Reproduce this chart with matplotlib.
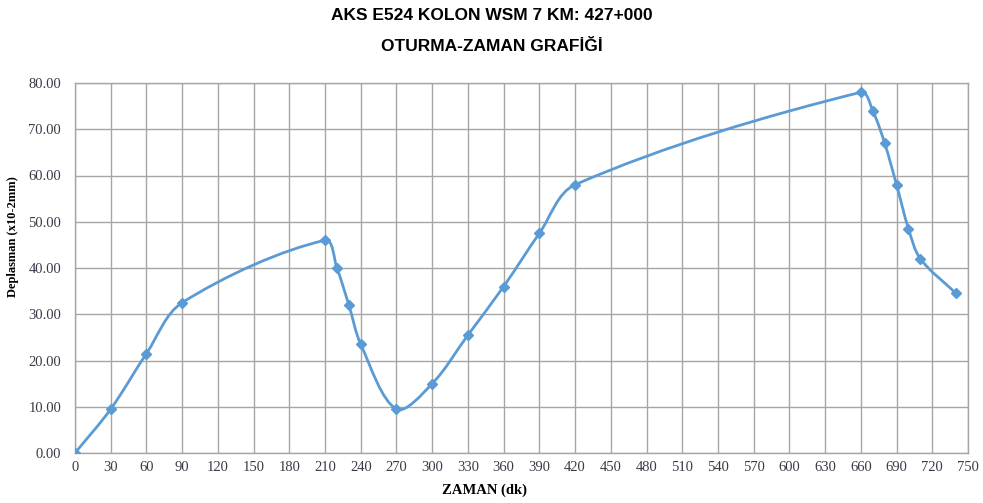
import numpy as np
import matplotlib
matplotlib.use("Agg")
import matplotlib.pyplot as plt
from matplotlib.path import Path
from matplotlib.patches import PathPatch

# Settlement-time readings
zaman = [0, 30, 60, 90, 210, 220, 230, 240, 270, 300, 330, 360, 390, 420,
         660, 670, 680, 690, 700, 710, 740]
deplasman = [0.0, 9.5, 21.5, 32.5, 46.0, 40.0, 32.0, 23.5, 9.5, 15.0, 25.5,
             36.0, 47.5, 58.0, 78.0, 74.0, 67.0, 58.0, 48.5, 42.0, 34.5]

x_ticks = list(range(0, 751, 30))
y_ticks = [0, 10, 20, 30, 40, 50, 60, 70, 80]

title1 = "AKS E524 KOLON WSM 7 KM: 427+000"
title2 = "OTURMA-ZAMAN GRAFİĞİ"

line_color = "#5b9bd5"
grid_color = "#a6a6a6"
tick_color = "#3a3a48"

fig = plt.figure(figsize=(9.83, 5.03), dpi=100)
ax = fig.add_axes([75 / 983, 1 - 453 / 503, (968 - 75) / 983, (453 - 83) / 503])

ax.set_xlim(0, 750)
ax.set_ylim(0, 80)


def smooth_path(xs, ys, k=1.0 / 3.0):
    """Smoothed line through the points, built in screen space so that
    control handles scale with the on-screen length of each segment."""
    to_disp = ax.transData
    pts = to_disp.transform(np.column_stack([xs, ys]).astype(float))
    n = len(pts)
    seg = np.linalg.norm(np.diff(pts, axis=0), axis=1)
    verts = [pts[0]]
    codes = [Path.MOVETO]
    for i in range(n - 1):
        p1, p2 = pts[i], pts[i + 1]
        d12 = seg[i]
        # outgoing handle at p1
        if i > 0:
            t1 = pts[i + 1] - pts[i - 1]
            c1 = p1 + t1 * k * d12 / (seg[i - 1] + d12)
        else:
            c1 = p1 + (p2 - p1) / 3.0
        # incoming handle at p2
        if i + 2 < n:
            t2 = pts[i + 2] - pts[i]
            c2 = p2 - t2 * k * d12 / (d12 + seg[i + 1])
        else:
            c2 = p2 - (p2 - p1) / 3.0
        verts += [c1, c2, p2]
        codes += [Path.CURVE4] * 3
    verts = to_disp.inverted().transform(np.array(verts))
    return Path(verts, codes)


ax.add_patch(PathPatch(smooth_path(zaman, deplasman), facecolor="none",
                       edgecolor=line_color, linewidth=2.0, zorder=3,
                       capstyle="round", joinstyle="round"))
ax.plot(zaman, deplasman, linestyle="none", marker="D", markersize=5,
        color=line_color, zorder=4)

ax.set_xticks(x_ticks)
ax.set_yticks(y_ticks)
ax.set_yticklabels([f"{v:.2f}" for v in y_ticks])
ax.grid(True, color=grid_color, linewidth=1.0)
ax.set_axisbelow(True)
for sp in ax.spines.values():
    sp.set_color(grid_color)
    sp.set_linewidth(1.0)
ax.tick_params(length=0, labelsize=10.5, colors=tick_color)
ax.tick_params(axis="x", pad=6)
ax.tick_params(axis="y", pad=10)
for lab in ax.get_xticklabels() + ax.get_yticklabels():
    lab.set_fontfamily("Liberation Serif")

ax.set_xlabel("ZAMAN (dk)", fontfamily="Liberation Serif", fontweight="bold",
              fontsize=10.5)
ax.xaxis.set_label_coords((485 - 75) / 893, -(484 - 453) / 370)
ax.set_ylabel("Deplasman (x10-2mm)", fontfamily="Liberation Serif",
              fontweight="bold", fontsize=9)
ax.yaxis.set_label_coords(-(75 - 19) / 893, (453 - 237) / 370)

fig.text(0.5, 1 - 15 / 503, title1, ha="center", va="center",
         fontfamily="Liberation Sans", fontweight="bold", fontsize=12.5)
fig.text(0.5, 1 - 46 / 503, title2, ha="center", va="center",
         fontfamily="Liberation Sans", fontweight="bold", fontsize=12.5)

fig.savefig("out.png", dpi=100, facecolor="white")
